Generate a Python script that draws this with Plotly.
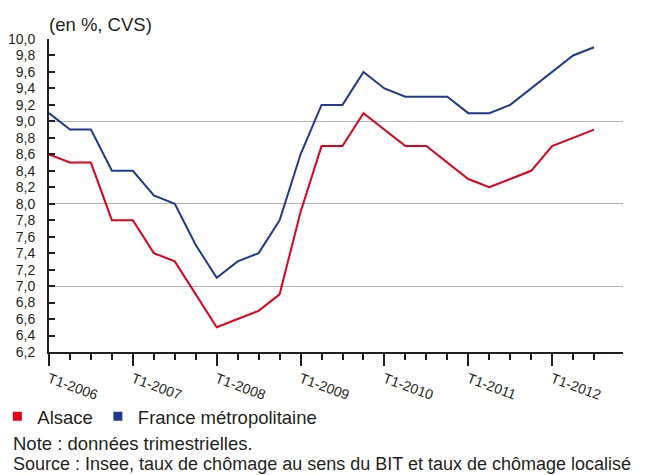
import plotly.graph_objects as go

# Quarterly data, T1-2006 .. T3-2012
quarters = list(range(27))
alsace = [8.6, 8.5, 8.5, 7.8, 7.8, 7.4, 7.3, 6.9, 6.5, 6.6, 6.7, 6.9, 7.9, 8.7,
          8.7, 9.1, 8.9, 8.7, 8.7, 8.5, 8.3, 8.2, 8.3, 8.4, 8.7, 8.8, 8.9]
france = [9.1, 8.9, 8.9, 8.4, 8.4, 8.1, 8.0, 7.5, 7.1, 7.3, 7.4, 7.8, 8.6, 9.2,
          9.2, 9.6, 9.4, 9.3, 9.3, 9.3, 9.1, 9.1, 9.2, 9.4, 9.6, 9.8, 9.9]
year_ticks = [0, 4, 8, 12, 16, 20, 24]
year_labels = ["T1-2006", "T1-2007", "T1-2008", "T1-2009", "T1-2010", "T1-2011", "T1-2012"]
y_ticks = [6.2, 6.4, 6.6, 6.8, 7.0, 7.2, 7.4, 7.6, 7.8, 8.0, 8.2, 8.4, 8.6, 8.8,
           9.0, 9.2, 9.4, 9.6, 9.8, 10.0]
y_grid = [7.0, 8.0, 9.0, 10.0]

RED = "#e2001a"
BLUE = "#1f3a8f"
INK = "#231f20"
FONT = "Liberation Sans, Arial, Helvetica, sans-serif"
BIG = 18.5

fig = go.Figure()
fig.add_trace(go.Scatter(x=quarters, y=alsace, mode="lines", line=dict(color=RED, width=2),
                         showlegend=False, name="Alsace"))
fig.add_trace(go.Scatter(x=quarters, y=france, mode="lines", line=dict(color=BLUE, width=2),
                         showlegend=False, name="France métropolitaine"))
# legend entries as squares
fig.add_trace(go.Scatter(x=[None], y=[None], mode="markers", name="Alsace",
                         marker=dict(symbol="square", size=9, color=RED)))
fig.add_trace(go.Scatter(x=[None], y=[None], mode="markers", name="France métropolitaine",
                         marker=dict(symbol="square", size=9, color=BLUE)))

# the page adds an 8px body margin, so the figure is sized to fill the rest of the window
fig.update_layout(
    width=642, height=467,
    margin=dict(l=41, r=27, t=31, b=123, autoexpand=False),
    paper_bgcolor="white", plot_bgcolor="white",
    separators=", ",
    font=dict(family=FONT, size=14, color=INK),
    xaxis=dict(
        range=[0, 27.38], showgrid=False, zeroline=False, automargin=False,
        showline=True, linecolor=INK, linewidth=1.5,
        tickmode="array", tickvals=year_ticks, ticktext=year_labels,
        ticks="outside", ticklen=12, tickwidth=1.5, tickcolor=INK,
        tickangle=20, tickfont=dict(size=14, color=INK),
        minor=dict(tickmode="array", tickvals=quarters, ticks="outside", ticklen=6,
                   tickwidth=1.5, tickcolor=INK, showgrid=False),
    ),
    yaxis=dict(
        range=[6.2, 10.0], showgrid=False, zeroline=False, automargin=False,
        showline=True, linecolor=INK, linewidth=2,
        tickmode="array", tickvals=y_ticks, tickformat=".1f",
        ticks="inside", ticklen=6, tickwidth=2, tickcolor=INK,
        tickfont=dict(size=14, color=INK), ticklabelstandoff=9,
        minor=dict(tickmode="array", tickvals=y_grid, showgrid=True,
                   gridcolor="#b4b4b4", gridwidth=1, ticks=""),
    ),
    legend=dict(orientation="h", x=-0.090, y=-0.207, xanchor="left", yanchor="middle",
                font=dict(size=BIG, color=INK), itemwidth=30, tracegroupgap=0,
                bgcolor="rgba(0,0,0,0)"),
    annotations=[
        dict(text="(en %, CVS)", xref="paper", yref="paper", x=-0.0035, y=1.045,
             xanchor="left", yanchor="middle", showarrow=False,
             font=dict(size=BIG, color=INK)),
        dict(text="Note : données trimestrielles.", xref="paper", yref="paper",
             x=-0.066, y=-0.292, xanchor="left", yanchor="middle", showarrow=False,
             font=dict(size=BIG, color=INK)),
        dict(text="Source : Insee, taux de chômage au sens du BIT et taux de chômage localisé",
             xref="paper", yref="paper", x=-0.066, y=-0.358, xanchor="left",
             yanchor="middle", showarrow=False, font=dict(size=18, color=INK)),
    ],
)

fig.write_html("out.html")
